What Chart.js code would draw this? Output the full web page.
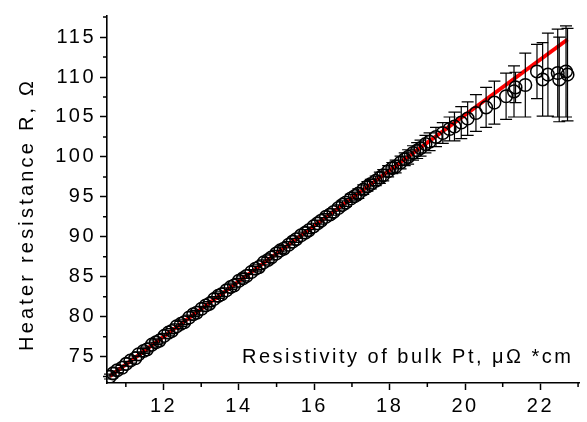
<!DOCTYPE html>
<html><head><meta charset="utf-8">
<script src="https://cdn.jsdelivr.net/npm/chart.js@4.4.0/dist/chart.umd.min.js"></script>
<style>html,body{margin:0;padding:0;background:#fff}#wrap{width:587px;height:422px}</style>
</head><body><div id="wrap"><canvas id="c" width="587" height="422"></canvas></div>
<script>
// ---- data ----
const resistivity = [10.58,10.66,10.77,10.90,11.01,11.12,11.25,11.34,11.47,11.56,11.69,11.80,11.89,12.02,12.13,12.22,12.35,12.46,12.55,12.68,
  12.79,12.88,13.01,13.12,13.21,13.34,13.45,13.54,13.67,13.78,13.87,14.00,14.11,14.20,14.33,14.44,14.53,14.66,14.77,14.86,
  14.99,15.10,15.19,15.32,15.43,15.52,15.65,15.76,15.85,15.98,16.09,16.18,16.31,16.42,16.51,16.64,16.75,16.84,16.97,17.08,
  17.17,17.30,17.41,17.50,17.63,17.74,17.83,17.96,18.07,18.16,18.29,18.40,18.49,18.62,18.73,18.82,18.95,19.06,
  19.23,19.41,19.59,19.72,19.90,20.07,20.29,20.56,20.78,21.09,21.30,21.34,21.60,21.91,22.06,22.20,22.46,22.50,22.68,22.72];
const resistance = [72.5,72.9,73.3,73.6,74.1,74.5,74.8,75.3,75.7,75.9,76.5,76.8,77.0,77.6,78.0,78.2,78.8,79.1,79.3,79.9,
  80.3,80.5,81.0,81.4,81.6,82.2,82.6,82.8,83.3,83.7,83.9,84.5,84.8,85.1,85.6,86.0,86.2,86.8,87.1,87.4,
  87.9,88.3,88.5,89.0,89.4,89.7,90.2,90.5,90.8,91.3,91.7,92.0,92.5,92.8,93.1,93.6,94.0,94.3,94.8,95.1,
  95.4,95.9,96.3,96.6,97.0,97.4,97.7,98.2,98.6,98.8,99.3,99.7,100.0,100.5,100.8,101.1,101.6,101.9,
  102.5,103.0,103.5,103.8,104.3,104.8,105.5,106.2,106.8,107.6,108.2,108.7,109.0,110.7,109.7,110.3,110.5,109.7,110.7,110.3];
const resistanceErr = [0.3,0.3,0.3,0.3,0.3,0.3,0.3,0.3,0.3,0.3,0.3,0.3,0.3,0.3,0.3,0.3,0.3,0.3,0.3,0.3,
  0.3,0.3,0.3,0.3,0.3,0.3,0.3,0.3,0.3,0.3,0.3,0.3,0.3,0.3,0.3,0.3,0.3,0.3,0.3,0.3,
  0.4,0.4,0.4,0.4,0.4,0.4,0.4,0.4,0.4,0.4,0.4,0.4,0.4,0.4,0.4,0.4,0.5,0.5,0.5,0.5,
  0.6,0.6,0.6,0.6,0.6,0.7,0.7,0.7,0.7,0.8,0.8,0.8,0.9,0.9,1.0,1.0,1.1,1.1,
  1.2,1.3,1.5,1.8,2.0,2.1,2.3,2.5,2.7,2.9,3.2,1.9,4.0,3.4,4.6,5.2,5.5,5.3,5.7,5.8];
const fitResistivity = [10.58, 22.72];
const fitResistance = [72.57, 114.7];
const xTickValues = [12, 14, 16, 18, 20, 22];
const xMinorValues = [11, 13, 15, 17, 19, 21, 23];
const yTickValues = [75, 80, 85, 90, 95, 100, 105, 110, 115];
const yMinorValues = [72.5, 77.5, 82.5, 87.5, 92.5, 97.5, 102.5, 107.5, 112.5, 117.5];
const xTitle = 'Resistivity of bulk Pt, \u03bc\u03a9 *cm';
const yTitle = 'Heater resistance R, \u03a9';

const FONT = "'Liberation Sans', Arial, sans-serif";
const LS = '2.5px';

const spacingPlugin = {
  id: 'spacing',
  beforeDraw(chart) { chart.ctx.letterSpacing = LS; }
};

// error bars drawn after the fit line (dataset index 0) and before the circles
const errorBarPlugin = {
  id: 'errorBars',
  afterDatasetDraw(chart, args) {
    if (args.index !== 0) return;
    const {ctx, scales: {x, y}} = chart;
    ctx.save();
    ctx.strokeStyle = '#000';
    ctx.lineWidth = 1.2;
    ctx.beginPath();
    for (let i = 0; i < resistivity.length; i++) {
      const px = x.getPixelForValue(resistivity[i]);
      const yt = y.getPixelForValue(resistance[i] + resistanceErr[i]);
      const yb = y.getPixelForValue(resistance[i] - resistanceErr[i]);
      ctx.moveTo(px, yt); ctx.lineTo(px, yb);
      ctx.moveTo(px - 6, yt); ctx.lineTo(px + 6, yt);
      ctx.moveTo(px - 6, yb); ctx.lineTo(px + 6, yb);
    }
    ctx.stroke();
    ctx.restore();
  }
};

const decorPlugin = {
  id: 'decor',
  afterDraw(chart) {
    const {ctx, scales: {x, y}} = chart;
    ctx.save();
    ctx.strokeStyle = '#000';
    ctx.lineWidth = 1.5;
    ctx.beginPath();
    const bottom = y.getPixelForValue(y.min);
    const left = x.getPixelForValue(x.min);
    xMinorValues.forEach(v => { const p = x.getPixelForValue(v); ctx.moveTo(p, bottom); ctx.lineTo(p, bottom + 4); });
    yMinorValues.forEach(v => { const p = y.getPixelForValue(v); ctx.moveTo(left, p); ctx.lineTo(left - 4, p); });
    ctx.stroke();
    ctx.fillStyle = '#000';
    ctx.font = '20px ' + FONT;
    ctx.textBaseline = 'alphabetic';
    ctx.textAlign = 'left';
    ctx.letterSpacing = '2.5px';
    ctx.fillText(xTitle, 242, 363);
    ctx.translate(33, 351);
    ctx.rotate(-Math.PI / 2);
    ctx.letterSpacing = '3.2px';
    ctx.fillText(yTitle, 0, 0);
    ctx.restore();
  }
};

const axisCommon = {
  type: 'linear',
  grid: { display: true, drawOnChartArea: false, drawTicks: true, tickLength: 7, tickWidth: 1.5, tickColor: '#000' },
  border: { display: true, color: '#000', width: 1.6 },
};

new Chart(document.getElementById('c'), {
  type: 'scatter',
  data: {
    datasets: [
      {
        type: 'line',
        label: 'fit',
        data: fitResistivity.map((v, i) => ({x: v, y: fitResistance[i]})),
        borderColor: '#ff0000',
        borderWidth: 4,
        pointRadius: 0,
        showLine: true,
        fill: false,
        order: 2
      },
      {
        label: 'data',
        data: resistivity.map((v, i) => ({x: v, y: resistance[i]})),
        pointStyle: 'circle',
        pointRadius: 6.3,
        pointBorderWidth: 1.5,
        borderColor: '#000',
        backgroundColor: 'rgba(0,0,0,0)',
        pointBackgroundColor: 'rgba(0,0,0,0)',
        pointBorderColor: '#000',
        showLine: false,
        clip: 0,
        order: 1
      }
    ]
  },
  options: {
    responsive: false,
    animation: false,
    devicePixelRatio: 1,
    layout: { padding: { top: 5, right: 7, left: 0, bottom: 0 } },
    plugins: { legend: { display: false }, tooltip: { enabled: false } },
    scales: {
      x: Object.assign({}, axisCommon, {
        position: 'bottom',
        min: 10.5, max: 23.03,
        afterFit: s => { s.height = 39; },
        afterBuildTicks: s => { s.ticks = xTickValues.map(v => ({value: v})); },
        ticks: { color: '#000', font: { family: FONT, size: 20 }, padding: 4, maxRotation: 0, autoSkip: false, callback: v => String(v) }
      }),
      y: Object.assign({}, axisCommon, {
        position: 'left',
        min: 71.7, max: 117.64,
        afterFit: s => { s.width = 107; },
        afterBuildTicks: s => { s.ticks = yTickValues.map(v => ({value: v})); },
        ticks: { color: '#000', font: { family: FONT, size: 20 }, padding: 4, autoSkip: false, callback: v => String(v) }
      })
    }
  },
  plugins: [spacingPlugin, errorBarPlugin, decorPlugin]
});
</script>
</body></html>
